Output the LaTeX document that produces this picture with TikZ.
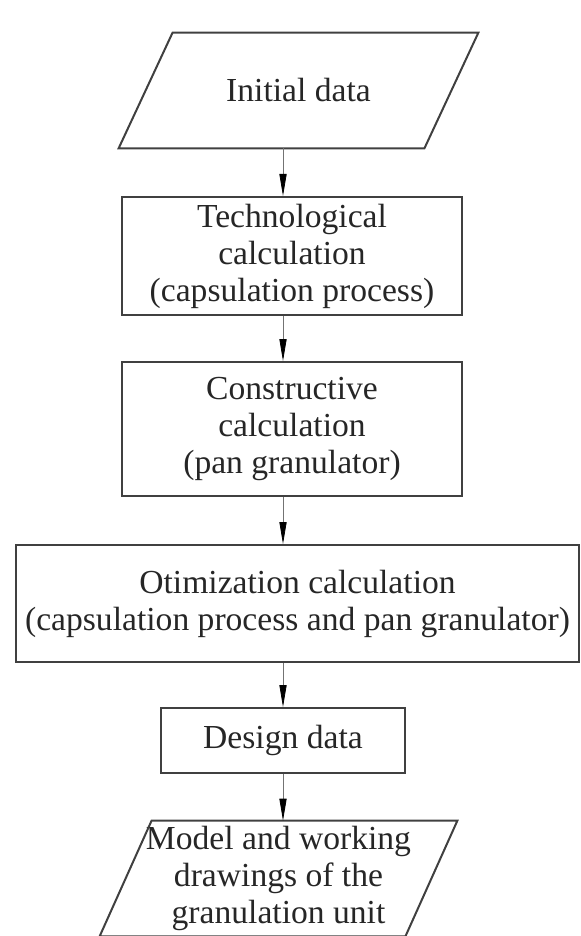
\documentclass[tikz,border=0pt]{standalone}
\usepackage{fontspec}
\setmainfont{Liberation Serif}
\usetikzlibrary{arrows.meta}

\tikzstyle{every node}=[font=\fontsize{16.8}{18.5}\selectfont, align=center, text=black!85, inner sep=0pt]
\tikzstyle{block}=[rectangle, draw=black!75, line width=1pt]
\tikzstyle{io}=[rectangle, minimum width=152.5pt, minimum height=57.5pt]
\tikzstyle{ioline}=[draw=black!75, line width=1pt, line join=miter]
\tikzstyle{arr}=[draw=black!55, line width=0.4pt, -{Triangle[length=11pt,width=3.6pt,black]}]

\begin{document}
\begin{tikzpicture}[x=0.5pt,y=-0.5pt]
\useasboundingbox (0,0) rectangle (580,936);

\node [io] (P1) at (298.5,90.5) {Initial data};

\node [block, below of=P1, node distance=82.75pt, xshift=-3.25pt, minimum width=170pt, minimum height=59pt] (B2) {Technological\\calculation\\(capsulation process)};
\node [block, below of=B2, node distance=86.5pt, minimum width=170pt, minimum height=67pt] (B3) {Constructive\\calculation\\(pan granulator)};
\node [block, below of=B3, node distance=87.25pt, xshift=2.75pt, minimum width=281.5pt, minimum height=58.5pt] (B4) {Otimization calculation\\(capsulation process and pan granulator)};
\node [block, below of=B4, node distance=68.5pt, xshift=-7.25pt, minimum width=122pt, minimum height=32.5pt] (B5) {Design data};
\node [io, below of=B5, node distance=69pt, xshift=-2.25pt] (P6) {Model and working\\drawings of the\\granulation unit};

% parallelogram outlines
\draw [ioline] ([xshift=13.5pt]P1.north west) -- ([xshift=13.5pt]P1.north east)
	-- ([xshift=-13.5pt]P1.south east) -- ([xshift=-13.5pt]P1.south west) -- cycle;
\draw [ioline] ([xshift=13pt]P6.north west) -- ([xshift=13pt]P6.north east)
	-- ([xshift=-13pt]P6.south east) -- ([xshift=-13pt]P6.south west) -- cycle;

\path (P1.south -| B5) edge [arr] (B2.north -| B5)
			(B2.south -| B5) edge [arr] (B3.north -| B5)
			(B3.south -| B5) edge [arr] (B4.north -| B5)
			(B4.south -| B5) edge [arr] (B5.north)
			(B5.south) edge [arr] (P6.north -| B5);
\end{tikzpicture}
\end{document}
